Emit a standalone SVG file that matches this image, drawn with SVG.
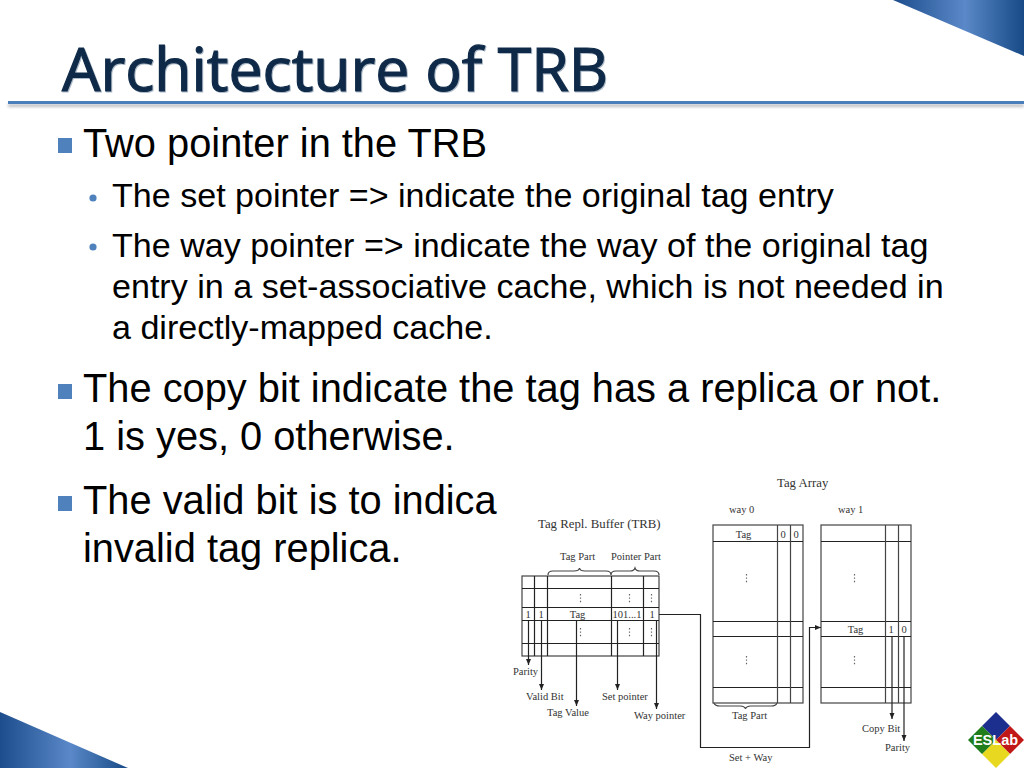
<svg xmlns="http://www.w3.org/2000/svg" width="1024" height="768" viewBox="0 0 1024 768">
<style>
.b{font-family:"Liberation Sans",Arial,sans-serif;fill:#000}
.l1{font-size:39.8px}
.l2{font-size:34.1px}
.s{font-family:"Liberation Serif","Times New Roman",serif;font-size:10.5px;fill:#333}
.big{font-size:12.8px}
.m{text-anchor:middle}
.g{fill:none;stroke:#444;stroke-width:1.2}
.k{fill:none;stroke:#222;stroke-width:1.2}
.d{fill:none;stroke:#666;stroke-width:1.2;stroke-dasharray:1.4 2}
.sq{fill:#4f81bd}
.dot{fill:#4f81bd}
.t{font-family:"Open Sans","Noto Sans",sans-serif;font-size:60px}
</style>
<defs>
<linearGradient id="corner" gradientUnits="objectBoundingBox" x1="0" y1="0" x2="1" y2="0">
<stop offset="0" stop-color="#1d4d8c"/><stop offset="0.55" stop-color="#5a88c8"/><stop offset="1" stop-color="#174a86"/>
</linearGradient>
<filter id="sh" x="-5%" y="-50%" width="110%" height="250%"><feGaussianBlur stdDeviation="1.4"/></filter>
<marker id="ah" markerWidth="7" markerHeight="7" refX="6" refY="3" orient="auto" markerUnits="userSpaceOnUse"><path d="M0,0.5 L6,3 L0,5.5 Z" fill="#222"/></marker>
</defs>

<g id="decor">
<polygon points="893,0 1024,0 1024,56" fill="url(#corner)"/>
<polygon points="0,712 0,768 128,768" fill="url(#corner)"/>
<rect x="8" y="104" width="1016" height="3" fill="#8a8f96" opacity="0.6" filter="url(#sh)"/>
<rect x="8" y="101" width="1016" height="3" fill="#4a7ebb"/>
</g>

<g id="title">
<text class="t" x="63" y="92" textLength="546" lengthAdjust="spacingAndGlyphs" fill="#8fa0b3" stroke="#8fa0b3" stroke-width="1.2" opacity="0.7">Architecture of TRB</text>
<text class="t" x="62" y="91" textLength="546" lengthAdjust="spacingAndGlyphs" fill="#0f2a48" stroke="#0f2a48" stroke-width="1.2">Architecture of TRB</text>
</g>

<g id="body">
<rect class="sq" x="58" y="138" width="14" height="15"/>
<text class="b l1" x="83" y="157">Two pointer in the TRB</text>
<circle class="dot" cx="93" cy="198" r="3.6"/>
<text class="b l2" x="112" y="207">The set pointer =&gt; indicate the original tag entry</text>
<circle class="dot" cx="93" cy="247" r="3.6"/>
<text class="b l2" x="112" y="257">The way pointer =&gt; indicate the way of the original tag</text>
<text class="b l2" x="112" y="298">entry in a set-associative cache, which is not needed in</text>
<text class="b l2" x="112" y="339">a directly-mapped cache.</text>
<rect class="sq" x="58" y="384" width="14" height="15"/>
<text class="b l1" x="83" y="402">The copy bit indicate the tag has a replica or not.</text>
<text class="b l1" x="83" y="450">1 is yes, 0 otherwise.</text>
<rect class="sq" x="58" y="496" width="14" height="15"/>
<text class="b l1" x="83" y="514">The valid bit is to indica</text>
<text class="b l1" x="83" y="562">invalid tag replica.</text>
</g>

<g id="trb">
<text class="s big" x="538" y="528">Tag Repl. Buffer (TRB)</text>
<text class="s" x="560" y="560">Tag Part</text>
<text class="s" x="611" y="560">Pointer Part</text>
<path class="g" d="M548,575 Q548,571 553,571 L574,571 Q579,571 579.5,568 Q580,571 585,571 L606,571 Q611,571 611,575 Q611,571 616,571 L630,571 Q634,571 635,568 Q636,571 640,571 L654,571 Q659,571 659,575"/>
<rect x="522" y="576" width="137" height="80" class="g"/>
<path class="k" d="M522,588.500H659M522,607.500H659M522,620.500H659M522,643.500H659M534.500,576V656M547.500,576V656M611.500,576V656M643.500,576V656"/>
<path class="d" d="M580.500,594V604M629.500,594V604M651.500,594V604M580.500,628V638M629.500,628V638M651.500,628V638"/>
<text class="s m" x="528" y="618">1</text>
<text class="s m" x="541" y="618">1</text>
<text class="s m" x="577.500" y="618">Tag</text>
<text class="s m" x="627" y="618">101...1</text>
<text class="s m" x="652" y="618">1</text>
</g>

<g id="way0">
<text class="s" x="729" y="513">way 0</text>
<rect x="713" y="525" width="90" height="178" class="g"/>
<path class="k" d="M713,541.500H803M713,621.500H803M713,636.500H803M713,687.500H803"/>
<path class="g" d="M777.500,525V703M790.500,525V703"/>
<path class="d" d="M746.500,574V584M746.500,656V666"/>
<text class="s m" x="743.500" y="538">Tag</text>
<text class="s m" x="783" y="538">0</text>
<text class="s m" x="796" y="538">0</text>
<path class="g" d="M714,703 Q715,706 720,706 L740,706 Q745,706 745.500,709 Q746,706 751,706 L771,706 Q776,706 777,703"/>
<text class="s" x="732" y="719">Tag Part</text>
</g>

<g id="way1">
<text class="s" x="838" y="513">way 1</text>
<rect x="821" y="525" width="90" height="178" class="g"/>
<path class="k" d="M821,541.500H911M821,621.500H911M821,636.500H911M821,687.500H911"/>
<path class="g" d="M885.500,525V703M898.500,525V703"/>
<path class="d" d="M854.500,574V584M854.500,656V666"/>
<text class="s m" x="855.500" y="633">Tag</text>
<text class="s m" x="891" y="633">1</text>
<text class="s m" x="904" y="633">0</text>
</g>

<g id="labels">
<text class="s" x="513" y="675">Parity</text>
<text class="s" x="526" y="700">Valid Bit</text>
<text class="s" x="547" y="716">Tag Value</text>
<text class="s" x="602" y="700">Set pointer</text>
<text class="s" x="634" y="719">Way pointer</text>
<text class="s big" x="777" y="487">Tag Array</text>
<text class="s" x="862" y="732">Copy Bit</text>
<text class="s" x="885" y="751">Parity</text>
<text class="s" x="729" y="761">Set + Way</text>
</g>

<g id="connectors">
<path class="k" marker-end="url(#ah)" d="M528.500,620V665"/>
<path class="k" marker-end="url(#ah)" d="M541.500,620V690"/>
<path class="k" marker-end="url(#ah)" d="M576.500,621V706"/>
<path class="k" marker-end="url(#ah)" d="M617.500,621V690"/>
<path class="k" marker-end="url(#ah)" d="M656.500,621V709"/>
<path class="k" marker-end="url(#ah)" d="M659,614.500H700.500V747.500H809.500V627.500H821"/>
<path class="k" marker-end="url(#ah)" d="M892,636V719"/>
<path class="k" marker-end="url(#ah)" d="M904,636V741"/>
</g>

<g id="logo">
<polygon points="996,712 1010,726 996,740 982,726" fill="#1c2f8f"/>
<polygon points="1010,726 1024,740 1010,754 996,740" fill="#c01818"/>
<polygon points="996,740 1010,754 996,768 982,754" fill="#e8d820"/>
<polygon points="982,726 996,740 982,754 968,740" fill="#1f7d1c"/>
<text x="995.500" y="745" text-anchor="middle" font-family="'Liberation Sans',Arial,sans-serif" font-weight="700" font-size="14.500" fill="#fff">ESLab</text>
</g>
</svg>
